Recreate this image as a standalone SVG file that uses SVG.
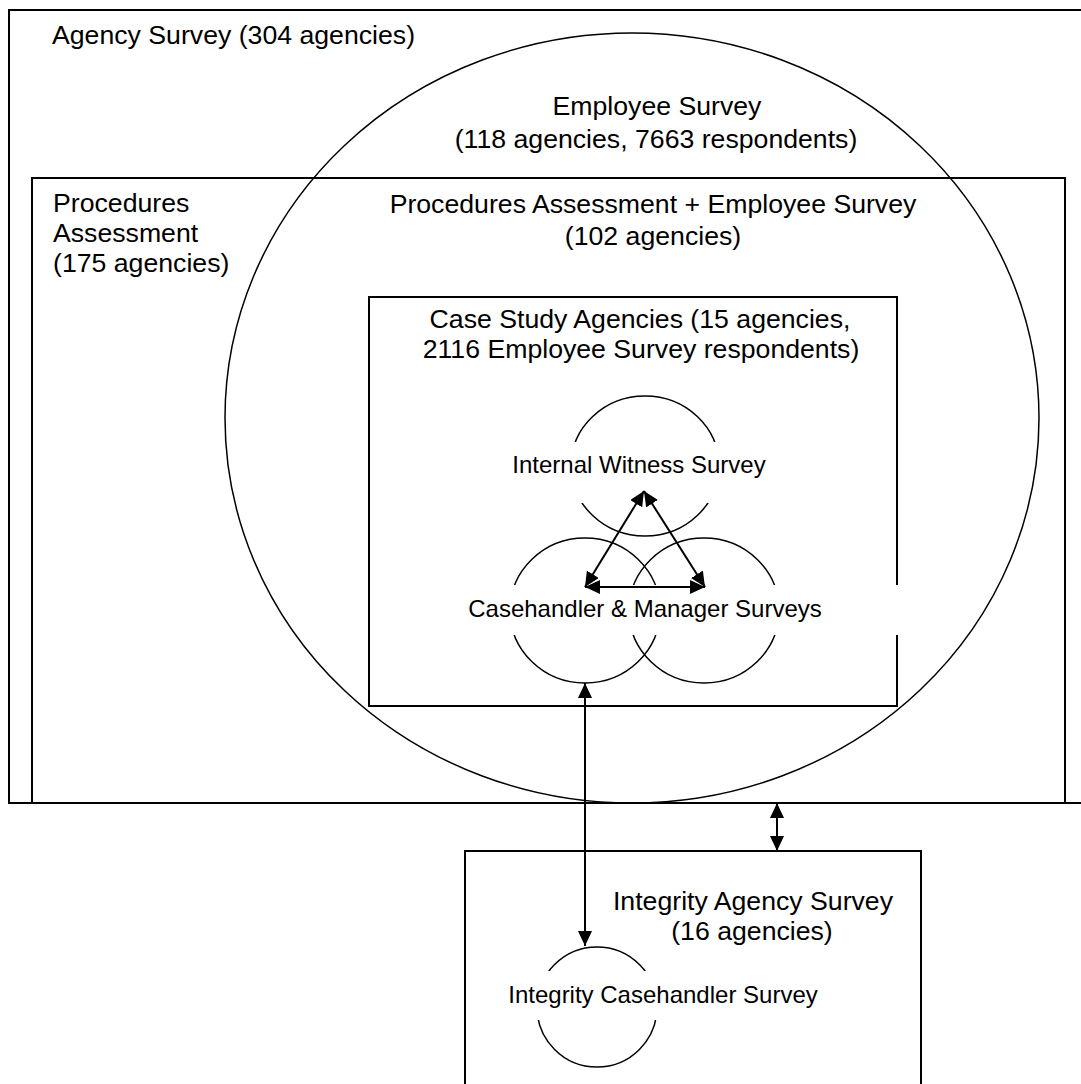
<svg xmlns="http://www.w3.org/2000/svg" width="1081" height="1084" viewBox="0 0 1081 1084">
<style>
.box{fill:none;stroke:#000;stroke-width:2}
.ring{fill:none;stroke:#000;stroke-width:1.5}
.lbl{fill:#fff;stroke:none}
.t{font-family:"Liberation Sans",Arial,sans-serif;font-size:26.67px;fill:#000}
.s{font-family:"Liberation Sans",Arial,sans-serif;font-size:24px;fill:#000}
.c{text-anchor:middle}
.conn{stroke:#000;stroke-width:2;fill:none;marker-start:url(#ah);marker-end:url(#ah)}
</style>
<defs>
<marker id="ah" viewBox="0 0 15 14" refX="15" refY="7" markerWidth="15" markerHeight="14" markerUnits="userSpaceOnUse" orient="auto-start-reverse">
<path d="M0,0 L15,7 L0,14 Z" fill="#000"/>
</marker>
</defs>
<rect width="1081" height="1084" fill="#fff"/>
<g id="agency-survey">
<rect class="box" x="9" y="10" width="1090" height="793"/>
<text class="t" x="52" y="44">Agency Survey (304 agencies)</text>
</g>
<g id="procedures-assessment">
<rect class="box" x="32" y="178" width="1033" height="625"/>
<text class="t" x="53" y="212">Procedures</text>
<text class="t" x="53" y="242">Assessment</text>
<text class="t" x="53" y="272">(175 agencies)</text>
</g>
<g id="employee-survey">
<ellipse class="ring" cx="632" cy="418" rx="407" ry="385"/>
<text class="t c" x="657" y="115">Employee Survey</text>
<text class="t c" x="656" y="148">(118 agencies, 7663 respondents)</text>
</g>
<g id="pa-es">
<text class="t c" x="653" y="213">Procedures Assessment + Employee Survey</text>
<text class="t c" x="653" y="245">(102 agencies)</text>
</g>
<g id="case-study">
<rect class="box" x="369" y="297" width="528" height="409"/>
<text class="t c" x="640" y="328">Case Study Agencies (15 agencies,</text>
<text class="t c" x="641" y="358">2116 Employee Survey respondents)</text>
</g>
<g id="internal-witness">
<ellipse class="ring" cx="645" cy="466" rx="74" ry="70"/>
<rect class="lbl" x="500" y="442" width="280" height="61"/>
<text class="s c" x="639" y="473">Internal Witness Survey</text>
</g>
<g id="casehandler-manager">
<ellipse class="ring" cx="585" cy="610.5" rx="75" ry="72.5"/>
<ellipse class="ring" cx="704" cy="610.5" rx="75" ry="72.5"/>
<rect class="lbl" x="460" y="585" width="438" height="50"/>
<text class="s c" x="645" y="617">Casehandler &amp; Manager Surveys</text>
</g>
<g id="integrity-agency">
<rect class="box" x="465" y="851" width="456" height="260"/>
<text class="t c" x="753" y="910">Integrity Agency Survey</text>
<text class="t c" x="752" y="940">(16 agencies)</text>
</g>
<g id="integrity-casehandler">
<circle class="ring" cx="597" cy="1007" r="60"/>
<rect class="lbl" x="500" y="971" width="330" height="49"/>
<text class="s c" x="663" y="1003">Integrity Casehandler Survey</text>
</g>
<g id="connectors">
<line class="conn" x1="644" y1="491" x2="585" y2="587"/>
<line class="conn" x1="644" y1="491" x2="705" y2="587"/>
<line class="conn" x1="585" y1="587" x2="705" y2="587"/>
<line class="conn" x1="585" y1="683" x2="585" y2="946"/>
<line class="conn" x1="777" y1="803" x2="777" y2="851"/>
</g>
</svg>
